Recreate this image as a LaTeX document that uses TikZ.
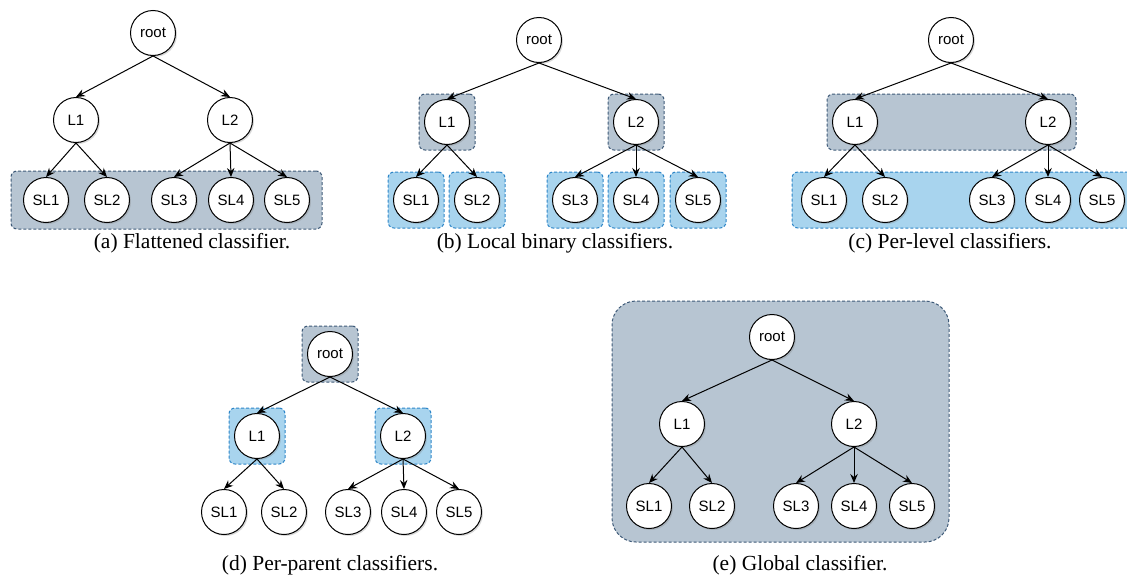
\documentclass[tikz,border=0pt]{standalone}
\usepackage{fontspec}
\setmainfont{Liberation Serif}
\setsansfont{Liberation Sans}
\usetikzlibrary{arrows.meta,shadows,fit,backgrounds}

\definecolor{zonegray}{HTML}{B7C5D2}
\definecolor{zonegrayline}{HTML}{3E5A78}
\definecolor{zoneblue}{HTML}{A8D4EE}
\definecolor{zoneblueline}{HTML}{2E86C8}

\tikzset{
  cls/.style={circle, draw, line width=1pt, fill=white, minimum size=45pt, inner sep=0pt,
    font=\sffamily\fontsize{15}{15}\selectfont,
    drop shadow={shadow xshift=1.5pt, shadow yshift=-1.5pt, opacity=0.3}},
  grayzone/.style={draw=zonegrayline, fill=zonegray, line width=1pt, dash pattern=on 3pt off 2pt, rounded corners=6pt, inner sep=5pt},
  bluezone/.style={draw=zoneblueline, fill=zoneblue, line width=1pt, dash pattern=on 3pt off 2pt, rounded corners=6pt, inner sep=5pt},
  edge/.style={-{Stealth[length=9pt,width=7.5pt,inset=3pt]}, line width=1pt},
  caption/.style={font=\fontsize{21.5}{22}\selectfont}
}

\begin{document}
\begin{tikzpicture}[x=1pt, y=-1pt]
    \useasboundingbox (0,0) rectangle (1127,581);

    % ===== (a) FLATTENED CLASSIFIER =====
    \node[cls] (a-root) at (153, 33) {root};
    \node[cls] (a-L1) at (76, 120) {L1};
    \node[cls] (a-L2) at (230, 120) {L2};
    \node[cls] (a-SL1) at (46, 200) {SL1};
    \node[cls] (a-SL2) at (107, 200) {SL2};
    \node[cls] (a-SL3) at (174, 200) {SL3};
    \node[cls] (a-SL4) at (231, 200) {SL4};
    \node[cls] (a-SL5) at (287, 200) {SL5};
    \begin{scope}[on background layer]
        \node[grayzone, fit=(a-SL1)(a-SL5), inner xsep=12pt, inner ysep=6pt] (a-zone) {};
    \end{scope}
    \draw[edge] (a-root.south) -- (a-L1.north);
    \draw[edge] (a-root.south) -- (a-L2.north);
    \draw[edge] (a-L1.south) -- (a-SL1.north);
    \draw[edge] (a-L1.south) -- (a-SL2.north);
    \draw[edge] (a-L2.south) -- (a-SL3.north);
    \draw[edge] (a-L2.south) -- (a-SL4.north);
    \draw[edge] (a-L2.south) -- (a-SL5.north);
    \node[caption] (a-cap) at (192, 243) {(a) Flattened classifier.};

    % ===== (b) LOCAL BINARY CLASSIFIERS =====
    \node[cls] (b-root) at (539, 40) {root};
    \node[cls] (b-L1) at (447, 122) {L1};
    \node[cls] (b-L2) at (636, 122) {L2};
    \node[cls] (b-SL1) at (416, 200) {SL1};
    \node[cls] (b-SL2) at (477, 200) {SL2};
    \node[cls] (b-SL3) at (575, 200) {SL3};
    \node[cls] (b-SL4) at (636, 200) {SL4};
    \node[cls] (b-SL5) at (698, 200) {SL5};
    \begin{scope}[on background layer]
        \node[grayzone, fit=(b-L1)] (b-zone1) {};
        \node[grayzone, fit=(b-L2)] (b-zone2) {};
        \node[bluezone, fit=(b-SL1)] (b-zone3) {};
        \node[bluezone, fit=(b-SL2)] (b-zone4) {};
        \node[bluezone, fit=(b-SL3)] (b-zone5) {};
        \node[bluezone, fit=(b-SL4)] (b-zone6) {};
        \node[bluezone, fit=(b-SL5)] (b-zone7) {};
    \end{scope}
    \draw[edge] (b-root.south) -- (b-L1.north);
    \draw[edge] (b-root.south) -- (b-L2.north);
    \draw[edge] (b-L1.south) -- (b-SL1.north);
    \draw[edge] (b-L1.south) -- (b-SL2.north);
    \draw[edge] (b-L2.south) -- (b-SL3.north);
    \draw[edge] (b-L2.south) -- (b-SL4.north);
    \draw[edge] (b-L2.south) -- (b-SL5.north);
    \node[caption] (b-cap) at (555, 243) {(b) Local binary classifiers.};

    % ===== (c) PER-LEVEL CLASSIFIERS =====
    \node[cls] (c-root) at (951, 40) {root};
    \node[cls] (c-L1) at (855, 122) {L1};
    \node[cls] (c-L2) at (1048, 122) {L2};
    \node[cls] (c-SL1) at (824, 200) {SL1};
    \node[cls] (c-SL2) at (885, 200) {SL2};
    \node[cls] (c-SL3) at (992, 200) {SL3};
    \node[cls] (c-SL4) at (1048, 200) {SL4};
    \node[cls] (c-SL5) at (1102, 200) {SL5};
    \begin{scope}[on background layer]
        \node[grayzone, fit=(c-L1)(c-L2)] (c-zone1) {};
        \node[bluezone, fit=(c-SL1)(c-SL5), inner xsep=9pt] (c-zone2) {};
    \end{scope}
    \draw[edge] (c-root.south) -- (c-L1.north);
    \draw[edge] (c-root.south) -- (c-L2.north);
    \draw[edge] (c-L1.south) -- (c-SL1.north);
    \draw[edge] (c-L1.south) -- (c-SL2.north);
    \draw[edge] (c-L2.south) -- (c-SL3.north);
    \draw[edge] (c-L2.south) -- (c-SL4.north);
    \draw[edge] (c-L2.south) -- (c-SL5.north);
    \node[caption] (c-cap) at (950, 243) {(c) Per-level classifiers.};

    % ===== (d) PER-PARENT CLASSIFIERS =====
    \node[cls] (d-root) at (330, 354) {root};
    \node[cls] (d-L1) at (257, 436) {L1};
    \node[cls] (d-L2) at (403, 436) {L2};
    \node[cls] (d-SL1) at (224, 512) {SL1};
    \node[cls] (d-SL2) at (284, 512) {SL2};
    \node[cls] (d-SL3) at (348, 512) {SL3};
    \node[cls] (d-SL4) at (404, 512) {SL4};
    \node[cls] (d-SL5) at (459, 512) {SL5};
    \begin{scope}[on background layer]
        \node[grayzone, fit=(d-root)] (d-zone1) {};
        \node[bluezone, fit=(d-L1)] (d-zone2) {};
        \node[bluezone, fit=(d-L2)] (d-zone3) {};
    \end{scope}
    \draw[edge] (d-root.south) -- (d-L1.north);
    \draw[edge] (d-root.south) -- (d-L2.north);
    \draw[edge] (d-L1.south) -- (d-SL1.north);
    \draw[edge] (d-L1.south) -- (d-SL2.north);
    \draw[edge] (d-L2.south) -- (d-SL3.north);
    \draw[edge] (d-L2.south) -- (d-SL4.north);
    \draw[edge] (d-L2.south) -- (d-SL5.north);
    \node[caption] (d-cap) at (330, 565) {(d) Per-parent classifiers.};

    % ===== (e) GLOBAL CLASSIFIER =====
    \node[cls] (e-root) at (772, 337) {root};
    \node[cls] (e-L1) at (682, 424) {L1};
    \node[cls] (e-L2) at (854, 424) {L2};
    \node[cls] (e-SL1) at (649, 506) {SL1};
    \node[cls] (e-SL2) at (712, 506) {SL2};
    \node[cls] (e-SL3) at (796, 506) {SL3};
    \node[cls] (e-SL4) at (854, 506) {SL4};
    \node[cls] (e-SL5) at (912, 506) {SL5};
    \begin{scope}[on background layer]
        \node[grayzone, fit=(e-root)(e-SL1)(e-SL5), inner xsep=14pt, inner ysep=13pt, rounded corners=24pt] (e-zone) {};
    \end{scope}
    \draw[edge] (e-root.south) -- (e-L1.north);
    \draw[edge] (e-root.south) -- (e-L2.north);
    \draw[edge] (e-L1.south) -- (e-SL1.north);
    \draw[edge] (e-L1.south) -- (e-SL2.north);
    \draw[edge] (e-L2.south) -- (e-SL3.north);
    \draw[edge] (e-L2.south) -- (e-SL4.north);
    \draw[edge] (e-L2.south) -- (e-SL5.north);
    \node[caption] (e-cap) at (800, 565) {(e) Global classifier.};
\end{tikzpicture}
\end{document}
